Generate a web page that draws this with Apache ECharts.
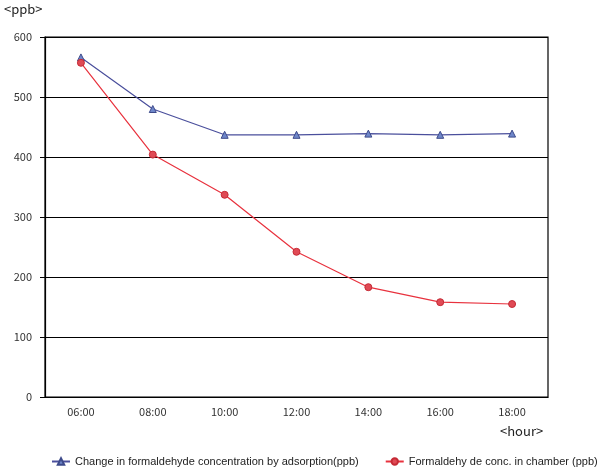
<!DOCTYPE html>
<html><head><meta charset="utf-8">
<script src="https://cdn.jsdelivr.net/npm/echarts@6/dist/echarts.min.js"></script>
<style>html,body{margin:0;padding:0;background:#fff}#c{width:602px;height:470px}</style>
</head><body><div id="c"></div>
<script>
const categories = ['06:00','08:00','10:00','12:00','14:00','16:00','18:00'];
const adsorption = [566, 480, 437, 437, 439, 437, 439];
const chamber = [557, 404, 337, 242, 183, 158, 155];
const yTicks = [0,100,200,300,400,500,600];
const seriesNames = ['Change in formaldehyde concentration by adsorption(ppb)','Formaldehy de conc. in chamber (ppb)'];

const font = '"Noto Sans CJK KR", "DejaVu Sans", sans-serif';
const lfont = '"Liberation Sans", Arial, sans-serif';
const chart = echarts.init(document.getElementById('c'), null, {renderer:'canvas'});
chart.setOption({
  animation:false,
  textStyle:{fontFamily:font},
  graphic:[
    {type:'text', left:4, top:3, style:{text:'<ppb>', fontSize:13, fill:'#222', fontFamily:font}},
    {type:'text', left:500, top:425, style:{text:'<hour>', fontSize:13, fill:'#222', fontFamily:font}},
    {type:'rect', shape:{x:45,y:37,width:503,height:360}, style:{fill:'none', stroke:'#000', lineWidth:1.2}, z:0}
  ],
  legend:{
    top:451, left:46, width:600, itemGap:26, itemWidth:18, itemHeight:8,
    textStyle:{fontSize:11, color:'#222', fontFamily:lfont},
    data:[seriesNames[0], seriesNames[1]]
  },
  grid:{left:45, right:54, top:37, bottom:73, containLabel:false},
  xAxis:{
    type:'category', data:categories, boundaryGap:true,
    axisLine:{lineStyle:{color:'#000', width:1.2}},
    axisTick:{show:false},
    axisLabel:{fontSize:11, color:'#333', margin:9, fontFamily:font}
  },
  yAxis:{
    type:'value', min:0, max:600, interval:100,
    axisLine:{show:true, lineStyle:{color:'#000', width:1.2}},
    axisTick:{show:true, length:5, lineStyle:{color:'#000'}},
    splitLine:{lineStyle:{color:'#000', width:1.2}},
    axisLabel:{fontSize:11, color:'#333', margin:13, fontFamily:font,
      formatter:v=> yTicks.includes(v) ? String(v) : ''}
  },
  series:[
    {name:seriesNames[0], type:'line', data:adsorption, symbol:'triangle', symbolSize:7,
     lineStyle:{color:'#4a4f9c', width:1.2},
     itemStyle:{color:'#6e86c9', borderColor:'#3d4a8a', borderWidth:1}, z:3},
    {name:seriesNames[1], type:'line', data:chamber, symbol:'circle', symbolSize:7,
     lineStyle:{color:'#e8323e', width:1.2},
     itemStyle:{color:'#e04a55', borderColor:'#c52a35', borderWidth:1}, z:4}
  ]
});
</script></body></html>
